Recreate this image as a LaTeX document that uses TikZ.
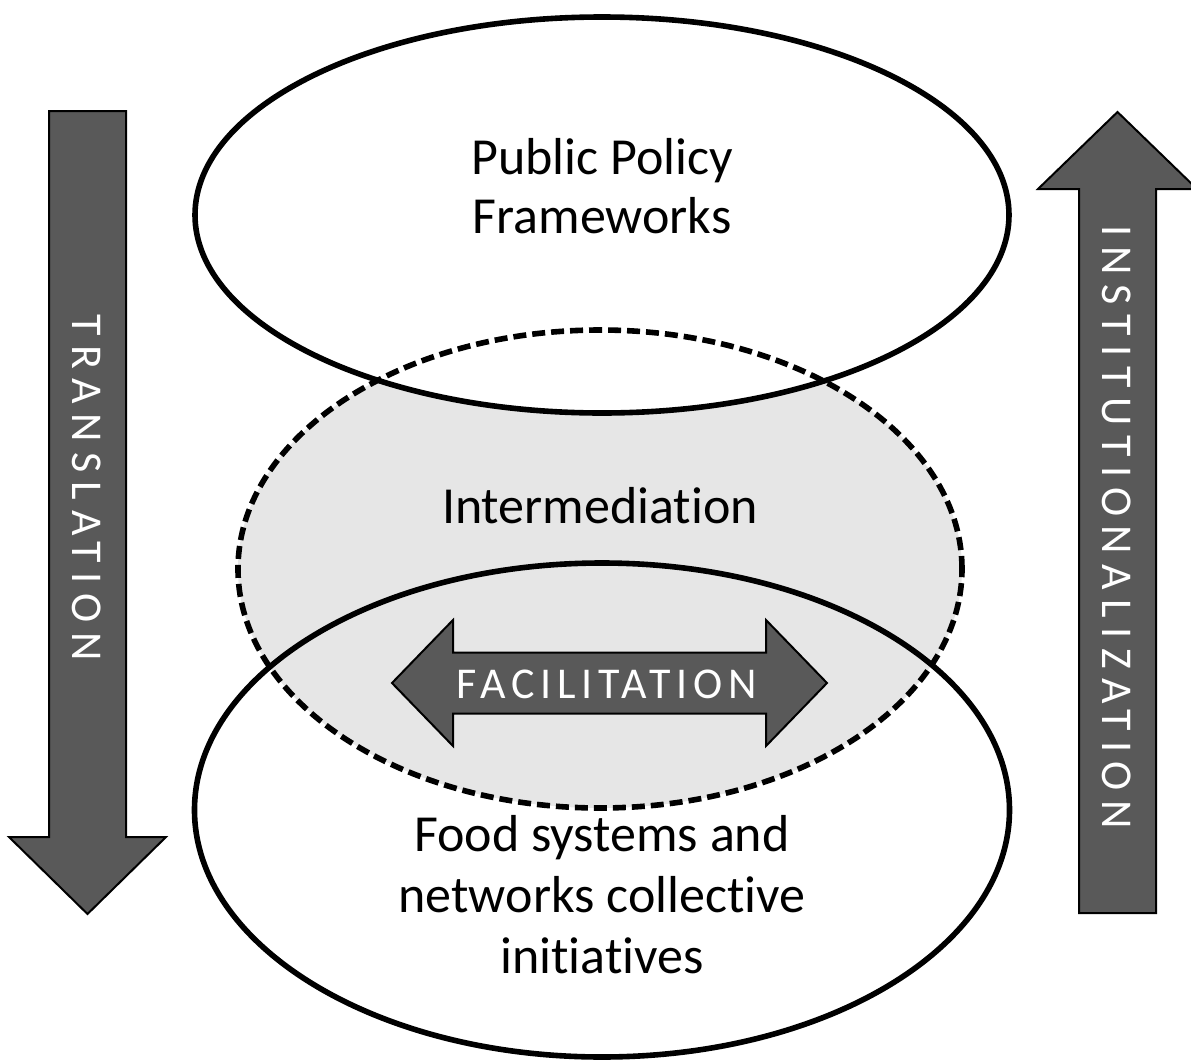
\documentclass[tikz,border=0pt]{standalone}
\usepackage{fontspec}
\setmainfont{Carlito}[Ligatures=NoCommon]
\newfontfamily\widecaps[LetterSpace=22]{Carlito}
\newfontfamily\spacedcaps[LetterSpace=13]{Carlito}
\usetikzlibrary{shapes.geometric}
\definecolor{arrowgray}{HTML}{595959}
\definecolor{midgray}{HTML}{E6E6E6}

\begin{document}
\begin{tikzpicture}[x=0.5pt,y=-0.5pt,
  oval/.style={ellipse,draw,line width=2.8pt,inner sep=0pt},
  bigarrow/.style={draw=black,line width=1pt,fill=arrowgray,line join=miter},
  lbl/.style={font=\fontsize{26}{29.5}\selectfont,align=center,inner sep=0pt},
  caps/.style={text=white,font=\widecaps\fontsize{22}{26}\selectfont,inner sep=0pt}]
  \useasboundingbox (0,0) rectangle (1191,1061);
  % shaded intermediation area
  \coordinate (midc) at (600,569);
  \fill[midgray] (midc) ellipse [x radius=362, y radius=239];
  \node[oval,fill=white,minimum width=407pt,minimum height=198pt] (top) at (602,215) {};
  \node[oval,minimum width=407.5pt,minimum height=247pt] (bot) at (602,810) {};
  \node[oval,dash pattern=on 6.5pt off 3pt,minimum width=362pt,minimum height=239pt] (mid) at (midc) {};
  \node[lbl] (pptxt) at (602,186) {Public Policy\\Frameworks};
  \node[lbl,anchor=base] (imtxt) at (600,523) {Intermediation};
  \node[lbl,font=\fontsize{26}{30.5}\selectfont] (fstxt) at (602,895) {Food systems and\\networks collective\\initiatives};
  % side arrows
  \draw[bigarrow] (49,111) -- (126,111) -- (126,837) -- (166,837) -- (87.5,914) -- (9,837) -- (49,837) -- cycle;
  \node[caps,rotate=-90,anchor=base] (trtxt) at (72,487.5) {TRANSLATION};
  \draw[bigarrow] (1079,913) -- (1156,913) -- (1156,189) -- (1197,189) -- (1117.5,112) -- (1038,189) -- (1079,189) -- cycle;
  \node[caps,rotate=-90,anchor=base] (intxt) at (1102,527.5) {INSTITUTIONALIZATION};
  % facilitation
  \draw[bigarrow] (392,683) -- (453,620) -- (453,652.5) -- (766,652.5) -- (766,620) -- (827,683)
    -- (766,746) -- (766,713.5) -- (453,713.5) -- (453,746) -- cycle;
  \node[caps,font=\spacedcaps\fontsize{22}{26}\selectfont,anchor=base] (fctxt) at (607,698) {FACILITATION};
\end{tikzpicture}
\end{document}
